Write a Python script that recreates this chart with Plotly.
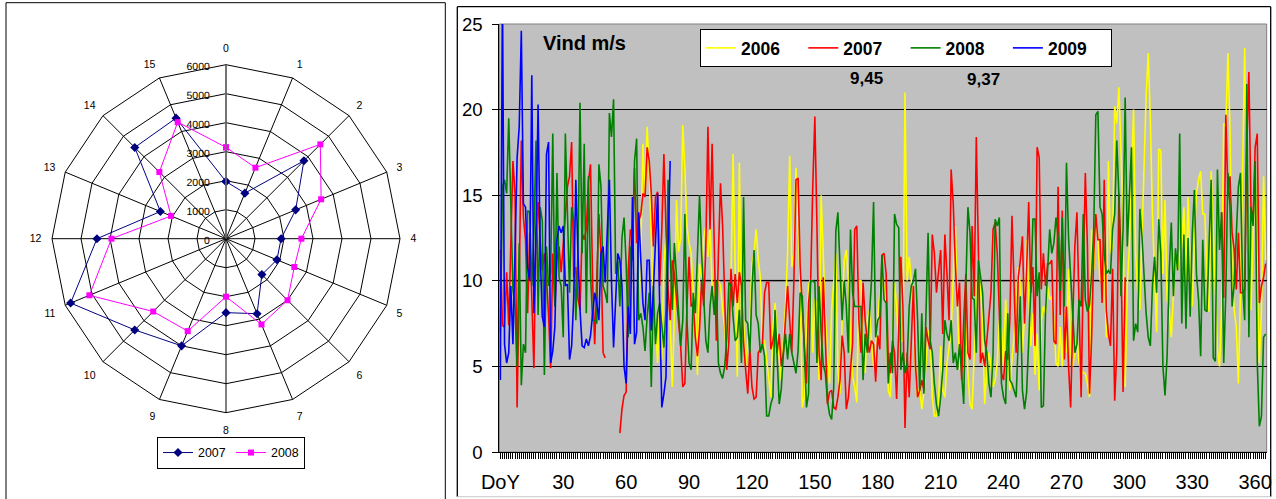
import plotly.graph_objects as go

# ---------------- data: radar (left) ----------------
directions = [str(i) for i in range(16)]
radar_2007 = [1970, 1700, 3800, 2600, 1900, 1900, 1750, 2800, 2550, 4000, 4450, 5800, 4450, 2450, 4450, 4500]
radar_2008 = [3150, 2650, 4600, 3550, 2600, 2550, 3000, 3200, 2000, 3450, 3550, 5100, 3950, 2050, 3250, 4350]
radial_ticks = [0, 1000, 2000, 3000, 4000, 5000, 6000]

# ---------------- data: daily wind (right) ----------------
doy_tickvals = [0, 30, 60, 90, 120, 150, 180, 210, 240, 270, 300, 330, 360]
doy_ticktext = ["DoY", "30", "60", "90", "120", "150", "180", "210", "240", "270", "300", "330", "360"]
y_ticks = [0, 5, 10, 15, 20, 25]

wind_2006 = [None] * 66 + [
    8, 12, 18, 15.1,
    19, 16.5, 12.5, 8.5, 7.7, 5.2, 8.5, 5.4, 11, 12.5,
    10, 7.7, 3.8, 8, 14.7, 11.7, 12.5, 19.1, 16.5, 13.2,
    12.2, 11.6, 9.3, 8.9, 4.5, 11, 10.2, 12.5, 13.2, 11.4,
    13.2, 9.7, 9.1, 9.7, 10, 9.7, 8.3, 7.3, 5.3, 9.7,
    10, 17.4, 10.8, 4.4, 16.9, 8, 7.7, 5, 6.5, 7.3,
    11, 11.6, 13, 11.2, 10.2, 6.5, 6.5, 5.4, 4.4, 3.2,
    7.3, 8.7, 6.9, 5.4, 4.2, 6.5, 8.5, 11.6, 17.3, 10.8,
    11.6, 16.6, 13.5, 10, 2.6, 3.2, 6.9, 9.7, 10.2, 5.8,
    9, 8.5, 4.2, 15, 11.6, 7.9, 5.8, 4, 8.3, 10,
    11.6, 4.8, 3.4, 7.7, 11.2, 11.8, 10, 6.5, 4.4, 3.8,
    2.9, 10, 10, 5.8, 4.6, 7.7, 8.3, 6.5, 5, 6.3,
    8.1, 9.3, 10.2, 9.7, 8.5, 3.6, 3.2, 6.5, 9.9, 8.5,
    6, 6.5, 6.5, 21, 10, 11.4, 10, 7.7, 4.8, 3.2,
    3.8, 2.5, 3.5, 5.1, 7.1, 6.7, 3.2, 2.1, 2.1, 2.9,
    6.2, 3.6, 3.2, 5.2, 6.2, 7, 10.2, 13.2, 8.5, 4.8,
    5.8, 6.3, 7.7, 4.6, 2.8, 2.5, 5.8, 8.1, 11.4, 9.3,
    7.7, 2.8, 4.8, 5.8, 5, 3.8, 4.2, 5.2, 7.7, 7.2,
    5, 8.9, 6, 3.6, 5.4, 6.9, 8.1, 10.8, 9.7, 5.8,
    8, 12.4, 9.7, 6.2, 8.1, 4.5, 6.9, 3.6, 7.7, 8.5,
    8.1, 9.7, 8.9, 9.1, 7.7, 5.2, 5, 7.3, 5, 8.1,
    5.8, 10.7, 5.8, 5, 5.8, 6.7, 5.2, 4.8, 4.6, 4.6,
    4, 3.2, 13, 10.6, 13.9, 12.4, 10, 10.4, 11.6, 6.7,
    17, 11.6, 12, 20.2, 19.2, 21.3, 17.5, 13.5, 3.8, 9.7,
    12, 16, 20, 11.6, 9.3, 8.3, 12.5, 15.9, 20.8, 23.3,
    19.4, 13.9, 10.8, 7, 17.7, 17.6, 10.4, 14.7, 8.9, 8.3,
    6.7, 9.1, 11.6, 10.6, 11.6, 12, 14.3, 10, 14.9, 10.4,
    8.5, 12.4, 15.1, 15.9, 16.4, 13.9, 13.9, 10.4, 8.2, 16.4,
    13.5, 9.7, 6, 5, 8.5, 19.2, 19, 23.3, 18.8, 10.4,
    8.3, 7.3, 4, 9.3, 16.5, 23.6, 14, 11.6, 8.3, 12.8,
    17, 10, 5.2, 8.3, 16.1, 11.2,
]

wind_2007 = [
    11.8, 7.4, 7.3, 10.5, 7.4, 12, 17, 15.1, 2.6, 10,
    18.2, 13.7, 12.4, 8.1, 12.8, 9, 4.9, 12.8, 14.6, 12.4,
    10.6, 11.6, 10.2, 8, 4.9, 11.6, 8.5, 11.2, 12, 10.5,
    12.2, 13.9, 15.5, 16.1, 18.1, 10.2, 10.8, 9, 8.3, 12.8,
    12.4, 13, 15.8, 16.8, 10, 6.3, 10.8, 13.9, 11.6, 5.8,
    5.5, None, None, None, None, None, None, 1.1, 2.5, 3.3,
    3.5, 10.6, 13, 12.5, 16.6, 12.2, 13.5, 13.9, 15.1, 14.9,
    17.8, 17, 15.1, 12, 14.9, 15.2, 9.7, 13, 17.4, 13,
    9.5, 7.7, 11.2, 10.4, 9, 8, 6.2, 3.8, 4, 8.5,
    11.4, 8.5, 8.7, 6.7, 5.6, 7.2, 10, 8.5, 12, 19,
    13, 18, 11.6, 6.5, 11.6, 15.7, 13.2, 8.3, 4.8, 6.5,
    10.7, 8.5, 10.4, 8.7, 10.5, 9.7, 6.4, 4.8, 3.4, 6,
    3.8, 3.1, 3.2, 5.8, 6, 6.3, 9.3, 9.9, 9.9, 6,
    6.5, 7.3, 5.8, 6.9, 5, 5.8, 7.7, 9.7, 7.7, 5.8,
    10, 15.9, 16, 10.8, 8.5, 6.2, 4, 8.7, 10, 15.5,
    19.6, 13.2, 5.8, 4.2, 10.2, 6.7, 2.8, 3.5, 3.6, 2.6,
    2.5, 3.2, 4.2, 6.8, 5.8, 2.5, 3.2, 4.8, 6.4, 13,
    13.2, 7.7, 5.8, 9.9, 7.7, 6.5, 5.8, 6.5, 6.3, 4.1,
    6.8, 6, 11.5, 11.6, 10.4, 5.4, 4.6, 6.5, 5.8, 3.1,
    7.7, 11.4, 8.5, 1.4, 5.8, 3.2, 6.5, 9.7, 5, 3.2,
    3.6, 4.2, 3.6, 7.3, 6.5, 6, 12.7, 11.6, 9.3, 10.4,
    11.8, 6.9, 12.7, 10.4, 7.7, 16.5, 14.5, 11, 8.5, 9.9,
    4.2, 7.7, 10.4, 5.8, 5.4, 13.2, 9.1, 18.4, 11.6, 5.2,
    5.8, 5, 6.5, 7.7, 9.3, 13, 13.4, 11.6, 8.1, 4.6,
    4.2, 5.9, 5.4, 7.7, 13.8, 9.7, 5.8, 10.2, 11.2, 12.6,
    7.5, 10.7, 14.6, 9.3, 10.8, 6.2, 17.8, 17.2, 9.5, 11.6,
    9.7, 11, 11, 11.2, 6.5, 6.3, 15.5, 8, 14.1, 5.4,
    8.5, 5, 2.6, 7.7, 12, 14, 7.7, 3.2, 10.4, 16.3,
    12, 3.4, 6.7, 11.6, 13.9, 12.4, 12.4, 8.7, 15.9, 8.3,
    6.9, 6.2, 10.7, 3, 5.8, 15.1, 11.6, 3.5, 10.2, None,
] + [None] * 44 + [
    14, 9, 19.7, 15.1, 16.1, 12.8,
    11.8, 9.5, 12.8, 9.3, 9.3, 9.5, 17.8, 22.2, 14.3, 13.5,
    17.8, 18.6, 8.7, 9.7, 10.2, 11,
]

wind_2008 = [
    7, 15.5, 15.9, 15.1, 19.5, 14.5, 9.5, 8.5, 5, 12.2,
    3.9, 6.3, 5.8, 14.1, 14, 9.7, 12.8, 18.2, 8, 14.3,
    13.5, 4.5, 12, 9.7, 10.5, 18.6, 8.5, 16.3, 10.2, 9.7,
    6.7, 18.6, 13.5, 9.3, 14.3, 13.5, 7.7, 11.6, 20.4, 11.6,
    18, 8.1, 16.1, 10.4, 7.7, 7.7, 7.5, 16.8, 15.5, 9.7,
    9.3, 8.7, 19.8, 18.4, 20.6, 10.4, 11.2, 8.5, 12.5, 13.7,
    11, 6.7, 12, 11.2, 17, 18.3, 7.7, 8.1, 7.3, 5.9,
    7.9, 9.3, 3.8, 9.7, 6.3, 8.1, 8.7, 7.3, 6.1, 8.3,
    15.9, 11.6, 8.3, 12.2, 10.4, 8, 6.2, 7.7, 13.9, 7.7,
    5.2, 4.8, 9.3, 8.1, 12, 15, 11.6, 8.7, 6.5, 5.8,
    8.5, 9.7, 8, 10, 5.2, 4.6, 4.3, 5, 6.6, 9.9,
    9.7, 7.9, 6.5, 6.7, 8.3, 5.2, 14.9, 7.7, 7.5, 5.8,
    9.5, 11.8, 8, 7.5, 5.8, 6.3, 5.6, 2.1, 2.1, 2.8,
    3.2, 8.3, 5.8, 2.8, 3.7, 5.8, 6.9, 5.4, 6.9, 5.8,
    5.2, 4.6, 5.9, 9.3, 9.1, 5.8, 2.6, 3.4, 10, 10,
    9.9, 5.2, 9.7, 7, 5.1, 4.6, 3, 2.2, 1.9, 3.8,
    12.9, 14, 11.2, 7.7, 10, 8.5, 5.8, 13, 9.3, 8.5,
    8.5, 8.5, 8.5, 4.2, 6.9, 5.8, 7.7, 10, 14.6, 6.7,
    7.7, 7.9, 11.5, 8.9, 8.7, 4, 5.8, 4.6, 13.9, 13.3,
    13.1, 4.8, 5.8, 4.6, 5.2, 8.5, 9.7, 10, 10.7, 7.7,
    3.6, 8.1, 3.4, 7.7, 12.8, 6.5, 5.8, 4, 2.8, 2.1,
    3.2, 4.8, 7.7, 6.9, 6.5, 7.7, 5.2, 5.8, 4.8, 6.3,
    4.2, 2.8, 9.7, 14.3, 12.8, 9, 8.9, 5.8, 11.2, 10.2,
    9.3, 6.5, 5.8, 4, 3.2, 5.8, 13.6, 13.2, 13.7, 4,
    3.2, 2.8, 8.1, 4.2, 4, 3.6, 3.2, 6.5, 9.1, 3.6,
    2.5, 3.5, 6.5, 9.5, 13.6, 13.6, 9.1, 10.5, 2.6, 2.7,
    8.1, 10.4, 13, 11.6, 12.2, 13.7, 12.6, 9.4, 13.7, 8.5,
    16.9, 12.5, 10.5, 8.2, 5.8, 6.3, 8.9, 8.5, 13.9, 8.9,
    8.2, 8.6, 10.4, 13, 19.7, 19.9, 14.3, 13.9, 11.6, 10.4,
    10.6, 10.4, 13, 13.9, 18.2, 15, 9.1, 13, 20.7, 12,
    15.5, 17.8, 6.5, 7.5, 7, 14.2, 12.6, 10, 8.1, 6.7,
    6.2, 9.7, 11.4, 9.3, 13.6, 11.6, 5, 3.3, 5.6, 10.5,
    13.4, 9.1, 11.9, 10.6, 18.6, 7.5, 12.7, 7.2, 12.5, 7.9,
    12.8, 15.3, 10.4, 8.9, 5.6, 12.4, 8.3, 8.2, 11.6, 15.9,
    5.5, 5.3, 16.5, 11.8, 14, 5.2, 9.3, 16.3, 14.3, 8.5,
    9.8, 12.8, 15.5, 16.3, 9.7, 7.7, 21.5, 6.7, 14.3, 13.2,
    17, 5.2, 1.5, 2.1, 6.7, 6.9,
]

wind_2009 = [
    4.2, 27, 6.3, 5.2, 5.8, 9.7, 6.3, 12, 17.2, 19,
    24.6, 14.5, 14.3, 10.8, 10, 22, 8.1, 12.7, 20.3, 11.6,
    7.9, 7.3, 17.4, 18.1, 5.2, 5.9, 7.3, 12.4, 13.2, 12.8,
    13.2, 9.7, 9.8, 5.4, 6.2, 9, 15.9, 11.6, 8.3, 6.2,
    6.1, 6.6, 6.2, 6.8, 8.1, 9.3, 8.7, 7.7, 11.6, 12,
    9.9, 12.5, 15.9, 10, 6.1, 8.9, 11.6, 11.2, 9.7, 5,
    4.0, 8.5, 6.9, 14.9, 6.3, 7, 14, 11.2, 8.7, 7.7,
    11.2, 11.2, 7.1, 9.5, 12.5, 15.1, 8.5, 2.6, 3.4, 4.4,
    12, 17,
]

series = [
    ("2006", wind_2006, "#FFFF00"),
    ("2007", wind_2007, "#FF0000"),
    ("2008", wind_2008, "#008000"),
    ("2009", wind_2009, "#0000FF"),
]

W, H = 1276, 499
FONT = "Liberation Sans, Arial, sans-serif"


def px(x):
    return x / W


def py(y):
    return 1 - y / H


fig = go.Figure()

# radar traces
fig.add_trace(go.Scatterpolar(
    r=radar_2007 + radar_2007[:1], theta=directions + directions[:1],
    mode="lines+markers", name="2007", legend="legend2", subplot="polar",
    line=dict(color="#000080", width=1),
    marker=dict(symbol="diamond", size=7, color="#000080"),
))
fig.add_trace(go.Scatterpolar(
    r=radar_2008 + radar_2008[:1], theta=directions + directions[:1],
    mode="lines+markers", name="2008", legend="legend2", subplot="polar",
    line=dict(color="#FF00FF", width=1),
    marker=dict(symbol="square", size=6, color="#FF00FF"),
))

# line traces
for name, vals, col in series:
    fig.add_trace(go.Scatter(
        x=list(range(len(vals))), y=vals, mode="lines", name=name,
        line=dict(color=col, width=1.6), connectgaps=False,
        legend="legend",
    ))

x_dom = [px(499.3), px(1266.7)]
y_dom = [py(452), py(24)]

fig.update_layout(
    width=W, height=H, autosize=False,
    margin=dict(l=0, r=0, t=0, b=0, pad=0, autoexpand=False),
    paper_bgcolor="white", plot_bgcolor="#C0C0C0",
    font=dict(family=FONT, color="black"),
    showlegend=True,
    polar=dict(
        domain=dict(x=[px(226 - 174), px(226 + 174)], y=[py(238.7 + 174), py(238.7 - 174)]),
        bgcolor="white", gridshape="linear",
        radialaxis=dict(
            range=[0, 6000], tickmode="array", tickvals=radial_ticks,
            angle=90, side="counterclockwise", showline=True,
            linecolor="#707070", linewidth=1.5, gridcolor="black", gridwidth=1,
            tickfont=dict(size=10.5, color="black", family=FONT),
            ticks="outside", ticklen=6, tickcolor="rgba(0,0,0,0)",
            tickangle=89.9,
        ),
        angularaxis=dict(
            type="category", categoryorder="array", categoryarray=directions,
            rotation=90, direction="clockwise", showline=True,
            linecolor="black", linewidth=1, gridcolor="black", gridwidth=1,
            tickfont=dict(size=10.5, color="black", family=FONT),
            ticks="outside", ticklen=8, tickcolor="rgba(0,0,0,0)",
        ),
    ),
    xaxis=dict(
        domain=x_dom, range=[-0.5, 365.5], tickmode="array",
        tickvals=doy_tickvals, ticktext=doy_ticktext,
        ticks="outside", ticklen=6, tickcolor="black", tickwidth=1,
        showline=True, linecolor="black", linewidth=1,
        showgrid=False, zeroline=False, automargin=False,
        tickfont=dict(size=20, family=FONT, color="black"),
        ticklabelstandoff=6,
        minor=dict(tickmode="linear", tick0=0, dtick=1, ticks="outside",
                   ticklen=6, tickcolor="black", tickwidth=1, showgrid=False),
    ),
    yaxis=dict(
        domain=y_dom, range=[0, 25], tickmode="array", tickvals=y_ticks,
        ticks="outside", ticklen=6, tickcolor="black", tickwidth=1,
        showline=True, linecolor="black", linewidth=1,
        showgrid=True, gridcolor="black", gridwidth=1, zeroline=False,
        automargin=False,
        tickfont=dict(size=18.6, family=FONT, color="black"),
        ticklabelstandoff=6,
    ),
    legend=dict(
        orientation="h", x=px(906), y=py(29), xanchor="center", yanchor="top",
        bgcolor="white", bordercolor="black", borderwidth=1,
        font=dict(size=17.5, family=FONT, color="black", weight="bold"),
        entrywidth=57.3, entrywidthmode="pixels", itemwidth=30,
        traceorder="normal",
    ),
    legend2=dict(
        orientation="h", x=px(231), y=py(437), xanchor="center", yanchor="top",
        bgcolor="white", bordercolor="black", borderwidth=1,
        font=dict(size=12.4, family=FONT, color="black"),
        entrywidth=28, entrywidthmode="pixels", itemwidth=30,
        traceorder="normal",
    ),
    annotations=[
        dict(text="<b>Vind m/s</b>", x=px(540.7), y=py(42.5), xref="paper", yref="paper",
             xanchor="left", yanchor="middle", showarrow=False,
             font=dict(size=20, family=FONT, color="black")),
        dict(text="<b>9,45</b>", x=px(866), y=py(78.5), xref="paper", yref="paper",
             xanchor="center", yanchor="middle", showarrow=False,
             font=dict(size=17, family=FONT, color="black")),
        dict(text="<b>9,37</b>", x=px(983.5), y=py(80), xref="paper", yref="paper",
             xanchor="center", yanchor="middle", showarrow=False,
             font=dict(size=17, family=FONT, color="black")),
    ],
    shapes=[
        # plot-area frame (grey)
        dict(type="rect", xref="paper", yref="paper", x0=x_dom[0], x1=x_dom[1],
             y0=y_dom[0], y1=y_dom[1], line=dict(color="#808080", width=1), layer="below"),
        # grey line at 10
        dict(type="line", xref="x domain", yref="y", x0=0, x1=1, y0=10, y1=10,
             line=dict(color="#707070", width=2), layer="below"),
        # left panel frame
        dict(type="rect", xref="paper", yref="paper", x0=px(6), x1=px(445.3),
             y0=-0.02, y1=py(2.7), line=dict(color="black", width=1)),
        # right panel frame
        dict(type="line", xref="paper", yref="paper", x0=px(457.3), x1=px(1270.7),
             y0=py(6.7), y1=py(6.7), line=dict(color="black", width=1.3)),
        dict(type="line", xref="paper", yref="paper", x0=px(457.3), x1=px(457.3),
             y0=py(6.7), y1=py(496.7), line=dict(color="black", width=1.3)),
        dict(type="line", xref="paper", yref="paper", x0=px(1270.7), x1=px(1270.7),
             y0=py(6.7), y1=py(496.7), line=dict(color="black", width=1.3)),
        dict(type="line", xref="paper", yref="paper", x0=px(457.3), x1=px(1270.7),
             y0=py(496.7), y1=py(496.7), line=dict(color="#C8C8C8", width=1)),
    ],
)

fig.write_html(
    "out.html",
    config={"displayModeBar": False},
    post_script="document.body.style.margin='0';document.body.style.overflow='hidden';",
)
